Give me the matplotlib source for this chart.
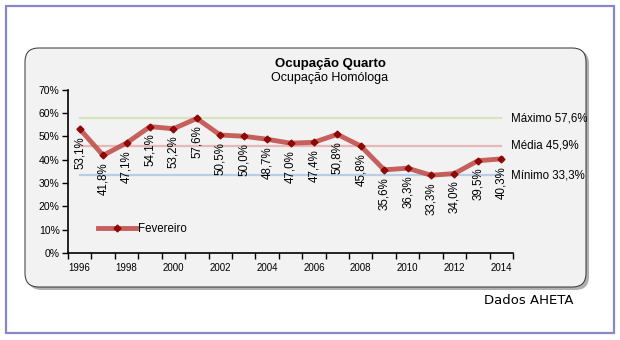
import matplotlib
matplotlib.use("Agg")
import matplotlib.pyplot as plt
from matplotlib.patches import FancyBboxPatch, Rectangle
from matplotlib.ticker import FixedLocator, PercentFormatter

years = list(range(1996, 2015))
fevereiro = [53.1, 41.8, 47.1, 54.1, 53.2, 57.6, 50.5, 50.0, 48.7, 47.0,
             47.4, 50.8, 45.8, 35.6, 36.3, 33.3, 34.0, 39.5, 40.3]
ref_names = ["Máximo", "Média", "Mínimo"]
ref_values = [57.6, 45.9, 33.3]
ref_colors = ["#d7e4bd", "#e6b9b8", "#b9cde5"]

plt.rcParams["font.family"] = ["Liberation Sans", "DejaVu Sans"]

W, H = 620, 340
fig = plt.figure(figsize=(W / 100, H / 100), dpi=100)
fig.patch.set_facecolor("white")


def fx(px):
    return px / W


def fy(py):
    return 1 - py / H


# outer frame
fig.patches.append(Rectangle((fx(5.5), fy(332.5)), fx(608), 327 / H,
                             transform=fig.transFigure, fill=False,
                             edgecolor="#8787c9", linewidth=1.6, zorder=-2))
# shadow + rounded chart box
fig.patches.append(FancyBboxPatch((fx(28), fy(290)), fx(561), 240 / H,
                                  boxstyle="round,pad=0,rounding_size=0.022",
                                  transform=fig.transFigure,
                                  facecolor="#b0b0b0", edgecolor="none",
                                  mutation_aspect=W / H, zorder=-2))
fig.patches.append(FancyBboxPatch((fx(25), fy(287)), fx(561), 239 / H,
                                  boxstyle="round,pad=0,rounding_size=0.022",
                                  transform=fig.transFigure,
                                  facecolor="#f2f2f2", edgecolor="#303030",
                                  linewidth=0.7, mutation_aspect=W / H,
                                  zorder=-1))

ax = fig.add_axes((fx(68), fy(253), fx(513 - 68), (253 - 89.5) / H))
ax.set_facecolor("none")
ax.set_zorder(1)

x = list(range(len(years)))
for name, val, col in zip(ref_names, ref_values, ref_colors):
    ax.plot([x[0], x[-1]], [val, val], color=col, linewidth=1.6, zorder=1)
    ax.text(x[-1] + 0.4, val, f"{name} {val:.1f}%".replace(".", ","),
            ha="left", va="center", fontsize=8.3, clip_on=False)

ax.plot(x, fevereiro, color="#c0504d", linewidth=3.5, alpha=0.9,
        marker="D", markersize=3.5, markerfacecolor="#8b0000",
        markeredgecolor="#8b0000", solid_joinstyle="round",
        label="Fevereiro", zorder=3)

for xi, v in zip(x, fevereiro):
    ax.annotate(f"{v:.1f}%".replace(".", ","), (xi, v), xytext=(0, -5),
                textcoords="offset points", rotation=90, ha="center",
                va="top", fontsize=8.3)

ax.set_xlim(-0.5, len(years) - 0.5)
ax.set_ylim(0, 70)
ax.yaxis.set_major_locator(FixedLocator(range(0, 71, 10)))
ax.yaxis.set_major_formatter(PercentFormatter(decimals=0))
ax.set_xticks([i - 0.5 for i in range(len(years) + 1)])
ax.set_xticklabels([])
ax.set_xticks(x[::2], minor=True)
ax.set_xticklabels([str(y) for y in years[::2]], minor=True)
ax.tick_params(axis="x", which="minor", length=0, labelsize=7, pad=7)
ax.tick_params(axis="x", which="major", length=4, width=1, direction="out")
ax.tick_params(axis="y", length=4, width=1, labelsize=7.5, pad=2)
for s in ("top", "right"):
    ax.spines[s].set_visible(False)
for s in ("left", "bottom"):
    ax.spines[s].set_linewidth(1.2)

ax.legend(loc="lower left", bbox_to_anchor=(0.045, 0.045), frameon=False,
          fontsize=8.3, handlelength=3.3, handletextpad=0.1)

fig.text(fx(330), fy(64), "Ocupação Quarto", ha="center", va="center",
         fontsize=9.5, fontweight="bold")
fig.text(fx(330), fy(78), "Ocupação Homóloga", ha="center", va="center",
         fontsize=9)
fig.text(fx(574), fy(301), "Dados AHETA", ha="right", va="center",
         fontsize=9.5, family="DejaVu Sans")

fig.savefig("out.png", dpi=100)
